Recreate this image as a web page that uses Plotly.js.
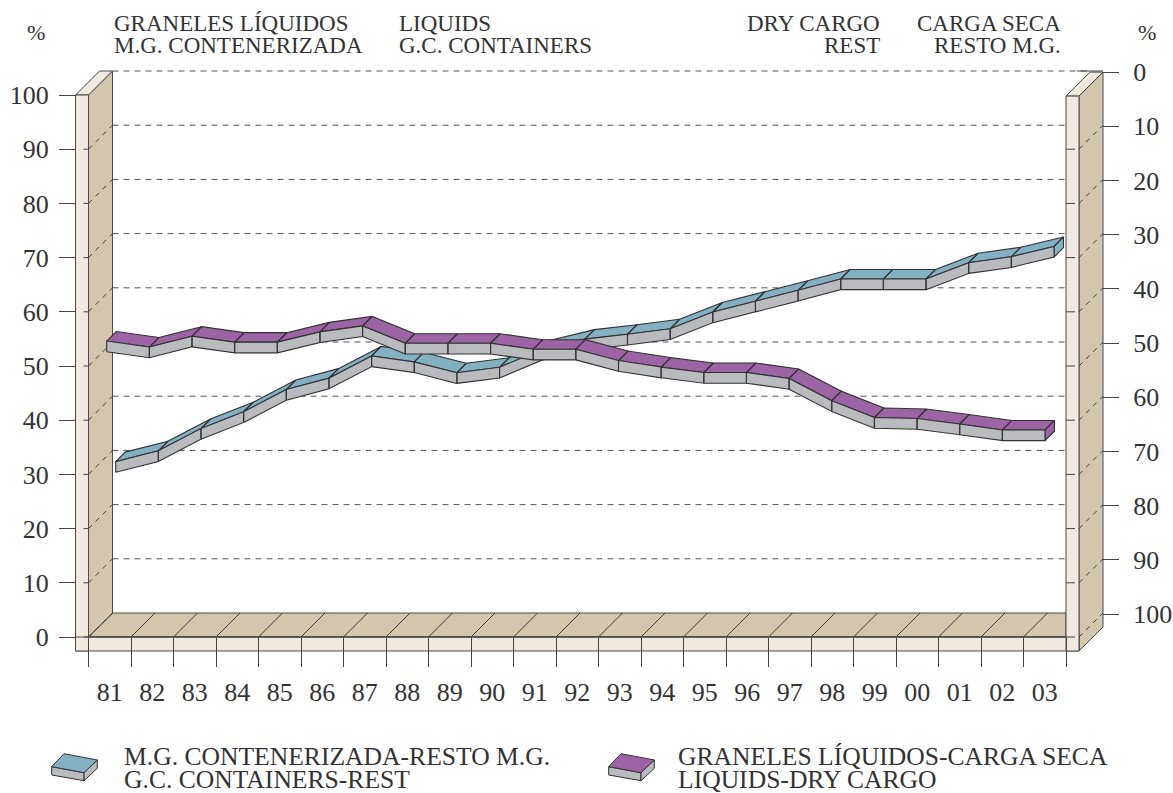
<!DOCTYPE html>
<html>
<head>
<meta charset="utf-8">
<script src="https://cdn.plot.ly/plotly-3.0.1.min.js"></script>
<style>html,body{margin:0;padding:0;background:#fff}#chart{width:1173px;height:793px}</style>
</head>
<body>
<div id="chart"></div>
<script>
// ---- data ----
const years = ['81','82','83','84','85','86','87','88','89','90','91','92','93','94','95','96','97','98','99','00','01','02','03'];
const containersRest = [30.7,32.7,36.8,39.9,44.0,46.1,50.2,49.1,47.1,48.1,51.4,53.3,54.2,55.2,58.3,60.3,62.3,64.4,64.4,64.4,67.4,68.5,70.4];
const liquidsDry = [54.6,53.5,55.5,54.4,54.4,56.3,57.4,54.2,54.2,54.2,53.1,53.1,51.0,49.8,48.8,48.8,47.7,43.6,40.5,40.3,39.3,38.2,38.2];
const leftTicks = [0,10,20,30,40,50,60,70,80,90,100];
const rightTicks = [0,10,20,30,40,50,60,70,80,90,100];
const headerLeft = ['GRANELES LÍQUIDOS','M.G. CONTENERIZADA'];
const headerLeft2 = ['LIQUIDS','G.C. CONTAINERS'];
const headerRight = ['DRY CARGO','REST'];
const headerRight2 = ['CARGA SECA','RESTO M.G.'];
const legendBlue = ['M.G. CONTENERIZADA-RESTO M.G.','G.C. CONTAINERS-REST'];
const legendPurple = ['GRANELES LÍQUIDOS-CARGA SECA','LIQUIDS-DRY CARGO'];

// ---- styling and scale ----
const W = 1173, H = 793;
const X0 = 88.5, PXU = 42.5, Y0 = 637, PYU = 5.42;
const DEPTH = 24, STRIP = 13, BOTTOM = 14;
const N = years.length;
const TXT = '#333333', EDGE = '#4a4a4a', FONT = '"Liberation Serif", serif';
const COL_WALL = '#D2C6AD', COL_STRIP = '#EFE9DF', COL_SIDE = '#B9BBBE', COL_BLUE = '#84B0C4', COL_PURPLE = '#9C63A5';

// data-space helpers: u = x-axis unit, v = percent, d = depth in px, dx = px offset on x
const P = (u, v, d = 0, dx = 0) => [u + (d + dx) / PXU, v + d / PYU];
const pathOf = pts => 'M' + pts.map(p => p[0] + ' ' + p[1]).join(' L') + ' Z';
const lineOf = pts => 'M' + pts.map(p => p[0] + ' ' + p[1]).join(' L');
const poly = (pts, fill, lw = 1) => ({type: 'path', xref: 'x', yref: 'y', layer: 'below', path: pathOf(pts), fillcolor: fill, line: {color: EDGE, width: lw}});
const seg = (pts, dash = 'solid', color = EDGE, lw = 1) => ({type: 'path', xref: 'x', yref: 'y', layer: 'below', path: lineOf(pts), line: {color, width: lw, dash}});

const shapes = [];
const DASH = '6px,5px';
// back wall grid
for (const t of leftTicks) {
  if (t === 0) continue;
  shapes.push(seg([P(0, t, DEPTH), P(N, t, DEPTH)], DASH, '#555'));
}
const xR = N; // right inner edge
// floor
shapes.push(poly([P(0, 0), P(0, 0, DEPTH), P(xR, 0, DEPTH, -DEPTH), P(xR, 0)], COL_WALL));
for (let i = 0; i < N; i++) shapes.push(seg([P(i, 0), P(i, 0, DEPTH)], 'solid', '#3a3a3a'));
// left wall
shapes.push(poly([P(0, 0), P(0, 100), P(0, 100, DEPTH), P(0, 0, DEPTH)], COL_WALL));
// left strip + bevel
shapes.push(poly([P(0, 100, 0, -STRIP), P(0, 100), P(0, 100, DEPTH), P(0, 100, DEPTH, -STRIP)], COL_STRIP));
shapes.push(poly([P(0, 100, 0, -STRIP), P(0, 100), P(0, -BOTTOM / PYU), P(0, -BOTTOM / PYU, 0, -STRIP)], COL_STRIP));
// right wall
const RS = STRIP;
shapes.push(poly([P(xR, 99.8, 0, RS), P(xR, 99.8, DEPTH, RS), P(xR, -BOTTOM / PYU, DEPTH, RS), P(xR, -BOTTOM / PYU, 0, RS)], COL_WALL));
// bottom strip
shapes.push(poly([P(0, 0, 0, -STRIP), P(xR, 0, 0, RS), P(xR, -BOTTOM / PYU, 0, RS), P(0, -BOTTOM / PYU, 0, -STRIP)], COL_STRIP));
// right strip + bevel
shapes.push(poly([P(xR, 99.8), P(xR, 99.8, 0, RS), P(xR, 99.8, DEPTH, RS), P(xR, 99.8, DEPTH)], COL_STRIP));
shapes.push(poly([P(xR, 99.8), P(xR, 99.8, 0, RS), P(xR, -BOTTOM / PYU, 0, RS), P(xR, -BOTTOM / PYU)], COL_STRIP));
// front floor line
shapes.push(seg([P(0, 0), P(xR, 0)], 'solid', '#333'));
// wall dashes
for (const t of leftTicks) {
  if (t < 100) shapes.push(seg([P(0, t), P(0, t, DEPTH)], '5px,5px', '#444'));
  if (t < 100) shapes.push(seg([P(0, t, 0, -5), P(0, t)], 'solid', '#444'));
  if (t < 100) shapes.push(seg([P(xR, t, 0, RS), P(xR, t, DEPTH, RS)], '5px,5px', '#444'));
  if (t < 100) shapes.push(seg([P(xR, t), P(xR, t, 0, RS)], '9px,4px', '#444'));
}
// top line of right wall joins its axis
shapes.push(seg([P(xR, 100, DEPTH, -STRIP), P(xR, 100, DEPTH, RS)], 'solid', '#444'));

// slabs
const SL_X0 = (106.7 - X0) / PXU, SL_STEP = 42.65 / PXU, SL_DEPTH = 9.5, SL_THICK = 10.7 / PYU;
function slabTraces(vals, depth, topColor, name) {
  const tx = [], ty = [], sx = [], sy = [];
  const add = (xs, ys, pts) => { pts.forEach(p => { xs.push(p[0]); ys.push(p[1]); }); xs.push(pts[0][0]); ys.push(pts[0][1]); xs.push(null); ys.push(null); };
  const Q = (i, v, d) => P(SL_X0 + SL_STEP * i, v, d);
  for (let i = 0; i < vals.length - 1; i++) {
    add(tx, ty, [Q(i, vals[i], depth), Q(i + 1, vals[i + 1], depth), Q(i + 1, vals[i + 1], depth + SL_DEPTH), Q(i, vals[i], depth + SL_DEPTH)]);
    add(sx, sy, [Q(i, vals[i] - SL_THICK, depth), Q(i + 1, vals[i + 1] - SL_THICK, depth), Q(i + 1, vals[i + 1], depth), Q(i, vals[i], depth)]);
  }
  const e = vals.length - 1;
  add(tx, ty, [Q(e, vals[e], depth), Q(e, vals[e], depth + SL_DEPTH), Q(e, vals[e] - SL_THICK, depth + SL_DEPTH), Q(e, vals[e] - SL_THICK, depth)]);
  const base = {type: 'scatter', mode: 'lines', fill: 'toself', hoverinfo: 'skip', showlegend: false, cliponaxis: false, connectgaps: false, line: {color: '#333', width: 1.1}};
  return [
    Object.assign({}, base, {name: name + ' top', x: tx, y: ty, fillcolor: topColor}),
    Object.assign({}, base, {name: name + ' side', x: sx, y: sy, fillcolor: COL_SIDE})
  ];
}
const traces = [
  ...slabTraces(containersRest, 9, COL_BLUE, 'containers'),
  ...slabTraces(liquidsDry, 0, COL_PURPLE, 'liquids'),
  {type: 'scatter', x: [], y: [], xaxis: 'x2', yaxis: 'y2', showlegend: false, hoverinfo: 'skip'}
];

// text
const annotations = [];
const note = (text, px, py, anchor, size = 23) => annotations.push({text, xref: 'paper', yref: 'paper', x: px / W, y: 1 - py / H, xanchor: anchor, yanchor: 'middle', showarrow: false, borderpad: 0, font: {family: FONT, size, color: TXT}});
note('%', 36, 33, 'center', 22);
note('%', 1147, 33, 'center', 22);
headerLeft.forEach((t, i) => note(t, 113, 23 + i * 22.5, 'left'));
headerLeft2.forEach((t, i) => note(t, 398, 23 + i * 22.5, 'left'));
headerRight.forEach((t, i) => note(t, 881, 23 + i * 22.5, 'right'));
headerRight2.forEach((t, i) => note(t, 1061.5, 23 + i * 22.5, 'right'));
legendBlue.forEach((t, i) => note(t, 123, 756 + i * 23, 'left', 25.6));
legendPurple.forEach((t, i) => note(t, 677, 756 + i * 23, 'left', 25.6));

// legend glyphs
const glyph = (ox, color) => {
  const pt = (x, y) => [(x + ox) / W, 1 - y / H];
  const s = (pts, fill) => ({type: 'path', xref: 'paper', yref: 'paper', layer: 'above', path: pathOf(pts), fillcolor: fill, line: {color: '#333', width: 1}});
  shapes.push(s([pt(51.7, 766.7), pt(84, 772.7), pt(84, 780.7), pt(51.7, 775)], COL_SIDE));
  shapes.push(s([pt(84, 772.7), pt(97.3, 760), pt(97.3, 768.3), pt(84, 780.7)], COL_SIDE));
  shapes.push(s([pt(51.7, 766.7), pt(64, 753.7), pt(97.3, 760), pt(84, 772.7)], color));
};
glyph(0, COL_BLUE);
glyph(557, COL_PURPLE);

const xRange = [-X0 / PXU, (W - X0) / PXU];
const layout = {
  width: W, height: H,
  margin: {l: 0, r: 0, t: 0, b: 0, pad: 0},
  paper_bgcolor: '#fff', plot_bgcolor: '#fff',
  showlegend: false,
  font: {family: FONT, color: TXT},
  xaxis: {
    range: xRange, domain: [0, 1], anchor: 'free', position: (H - 666) / H, side: 'bottom',
    showgrid: false, zeroline: false, showline: false, ticks: '', ticklen: 0,
    tickmode: 'array', tickvals: years.map((_, i) => i + 0.5), ticktext: years,
    ticklabelstandoff: 8, tickangle: 0, tickfont: {family: FONT, size: 26, color: TXT}
  },
  xaxis2: {
    range: xRange, domain: [0, 1], overlaying: 'x', anchor: 'free', position: (H - Y0) / H, side: 'bottom',
    showgrid: false, zeroline: false, showline: false, ticks: 'outside', ticklen: 29, tickwidth: 1, tickcolor: '#444',
    tickmode: 'array', tickvals: Array.from({length: N + 1}, (_, i) => i), showticklabels: false
  },
  yaxis: {
    range: [(Y0 - H) / PYU, Y0 / PYU], domain: [0, 1], anchor: 'free', position: 76 / W, side: 'left',
    showgrid: false, zeroline: false, showline: false, ticks: 'outside', ticklen: 17, tickwidth: 1, tickcolor: '#444',
    tickmode: 'array', tickvals: leftTicks, ticklabelstandoff: 5, tickfont: {family: FONT, size: 26, color: TXT}
  },
  yaxis2: {
    range: [(H - 72) / PYU, -72 / PYU], domain: [0, 1], overlaying: 'y', anchor: 'free', position: 1102 / W, side: 'right',
    showgrid: false, zeroline: false, showline: false, ticks: 'outside', ticklen: 16, tickwidth: 1, tickcolor: '#444',
    tickmode: 'array', tickvals: rightTicks, ticklabelstandoff: 9, tickfont: {family: FONT, size: 26, color: TXT}
  },
  shapes, annotations
};
Plotly.newPlot('chart', traces, layout, {displayModeBar: false, staticPlot: true});
</script>
</body>
</html>
